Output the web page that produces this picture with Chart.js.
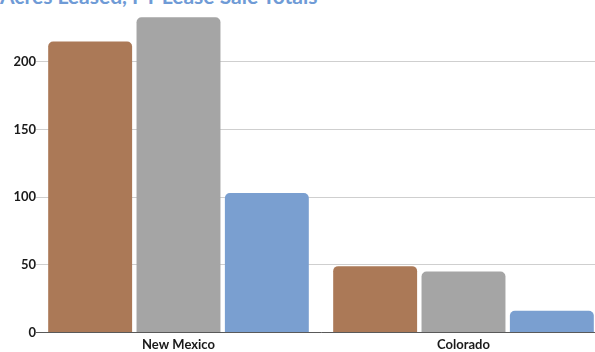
<!DOCTYPE html>
<html>
<head>
<meta charset="utf-8">
<script src="https://cdn.jsdelivr.net/npm/chart.js@4"></script>
<style>
  html, body { margin: 0; padding: 0; background: #fff; overflow: hidden; }
  #wrap { position: relative; width: 595px; height: 352px; overflow: hidden; }
  #titulo { position: absolute; left: 0; top: -17px; font: bold 21px Lato, sans-serif; color: #6f9bd6; white-space: nowrap; }
  #box { position: absolute; left: 0; top: 0; width: 606px; height: 358px; }
</style>
</head>
<body>
<div id="wrap">
  <div id="titulo">Acres Leased, FY Lease Sale Totals</div>
  <div id="box"><canvas id="grafico"></canvas></div>
</div>
<script>
// Datos
const categorias = ['New Mexico', 'Colorado'];
const serie1 = [215, 49];
const serie2 = [233, 45];
const serie3 = [103, 16];
const marcasY = [0, 50, 100, 150, 200];

const colores = ['#ab7957', '#a5a5a5', '#7a9fd0'];

const ctx = document.getElementById('grafico').getContext('2d');
new Chart(ctx, {
  type: 'bar',
  data: {
    labels: categorias,
    datasets: [
      { label: 'Serie 1', data: serie1, backgroundColor: colores[0] },
      { label: 'Serie 2', data: serie2, backgroundColor: colores[1] },
      { label: 'Serie 3', data: serie3, backgroundColor: colores[2] }
    ].map(d => Object.assign(d, {
      borderRadius: { topLeft: 5, topRight: 5 },
      borderSkipped: 'bottom',
      barPercentage: 0.95,
      categoryPercentage: 0.93
    }))
  },
  options: {
    responsive: true,
    maintainAspectRatio: false,
    animation: false,
    layout: { padding: { top: 5, right: 0, bottom: 0, left: 0 } },
    plugins: { legend: { display: false }, title: { display: false }, tooltip: { enabled: false } },
    scales: {
      x: {
        grid: { display: false, drawTicks: false },
        border: { color: '#595959', width: 1 },
        ticks: { color: '#1a1a1a', font: { family: 'Lato', weight: 'bold', size: 13 }, padding: 5 }
      },
      y: {
        min: 0,
        max: 240,
        afterBuildTicks: s => { s.ticks = marcasY.map(v => ({ value: v })); },
        afterFit: s => { s.width = 36; },
        grid: { color: '#cfcfcf', drawTicks: false },
        border: { display: false },
        ticks: { color: '#1a1a1a', font: { family: 'Lato', weight: 'bold', size: 13 }, padding: 0 }
      }
    }
  }
});
</script>
</body>
</html>
